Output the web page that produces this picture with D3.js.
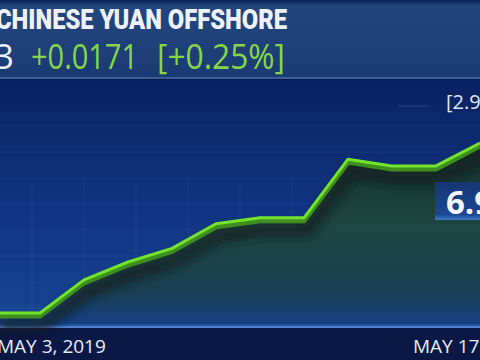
<!DOCTYPE html>
<html>
<head>
<meta charset="utf-8">
<script src="https://cdn.jsdelivr.net/npm/d3@7"></script>
<style>
  html, body { margin: 0; padding: 0; background: #0a1a48; }
  svg { display: block; }
</style>
</head>
<body>
<svg id="chart" width="480" height="360"></svg>
<script>
// data (USD/CNH, May 3 - May 17 2019)
const steps = [0, 1, 2, 3, 4, 5, 6, 7, 8, 9, 10, 11];
const values = [6.740, 6.740, 6.779, 6.800, 6.816, 6.845, 6.852, 6.852, 6.921, 6.913, 6.913, 6.940];
const dateLabels = ["MAY 3, 2019", "MAY 17, 2019"];
const title = "CHINESE YUAN OFFSHORE";
const quote = { last: "3", change: "+0.0171", pct: "[+0.25%]", price: "6.9", range: "[2.9" };

const svg = d3.select('#chart');
const W = 480, H = 360;
const chartTop = 80, chartBottom = 328;

const defs = svg.append('defs');

const bg = defs.append('linearGradient').attr('id', 'bg').attr('x1', 0).attr('y1', 0).attr('x2', 0).attr('y2', 1);
bg.append('stop').attr('offset', '0%').attr('stop-color', '#0a2262');
bg.append('stop').attr('offset', '55%').attr('stop-color', '#113584');
bg.append('stop').attr('offset', '90%').attr('stop-color', '#15418f');
bg.append('stop').attr('offset', '100%').attr('stop-color', '#1f56a8');

const head = defs.append('linearGradient').attr('id', 'head').attr('x1', 0).attr('y1', 0).attr('x2', 0).attr('y2', 1);
head.append('stop').attr('offset', '0%').attr('stop-color', '#0c2357');
head.append('stop').attr('offset', '8%').attr('stop-color', '#24467f');
head.append('stop').attr('offset', '100%').attr('stop-color', '#1a3a74');

const fill = defs.append('linearGradient').attr('id', 'fill').attr('gradientUnits', 'userSpaceOnUse')
  .attr('x1', 0).attr('y1', 140).attr('x2', 0).attr('y2', chartBottom);
fill.append('stop').attr('offset', '0%').attr('stop-color', '#142d2a');
fill.append('stop').attr('offset', '45%').attr('stop-color', '#1e4641');
fill.append('stop').attr('offset', '80%').attr('stop-color', '#1b3f52');
fill.append('stop').attr('offset', '100%').attr('stop-color', '#15408a');

const box = defs.append('linearGradient').attr('id', 'box').attr('x1', 0).attr('y1', 0).attr('x2', 0).attr('y2', 1);
box.append('stop').attr('offset', '0%').attr('stop-color', '#153674');
box.append('stop').attr('offset', '85%').attr('stop-color', '#1d4790');
box.append('stop').attr('offset', '100%').attr('stop-color', '#3a78c8');

defs.append('filter').attr('id', 'blur').attr('x', '-10%').attr('y', '-20%').attr('width', '120%').attr('height', '160%')
  .append('feGaussianBlur').attr('stdDeviation', 5);

// backgrounds
svg.append('rect').attr('x', 0).attr('y', chartTop).attr('width', W).attr('height', chartBottom - chartTop).attr('fill', 'url(#bg)');
svg.append('rect').attr('x', 0).attr('y', chartBottom).attr('width', W).attr('height', H - chartBottom).attr('fill', '#0a1845');
svg.append('rect').attr('x', 0).attr('y', chartBottom - 2).attr('width', W).attr('height', 2).attr('fill', '#5d8fd6').attr('opacity', 0.8);

// faint grid
const gx = d3.range(32, W, 52);
const gy = d3.range(126, chartBottom, 26);
svg.append('g').selectAll('line').data(gx).join('line')
  .attr('x1', d => d).attr('x2', d => d).attr('y1', 180).attr('y2', chartBottom - 4)
  .attr('stroke', '#8fb0e8').attr('stroke-opacity', 0.09);
svg.append('g').selectAll('line').data(gy).join('line')
  .attr('x1', 0).attr('x2', W).attr('y1', d => d).attr('y2', d => d)
  .attr('stroke', '#8fb0e8').attr('stroke-opacity', 0.07);

const x = d3.scaleLinear().domain([0, 11]).range([-4, 480]);
const y = d3.scaleLinear().domain([6.74, 6.94]).range([313, 143]);
const pts = steps.map((s, i) => [s, values[i]]);

const area = d3.area().x(d => x(d[0])).y0(chartBottom - 4).y1(d => y(d[1]));
const line = d3.line().x(d => x(d[0])).y(d => y(d[1]));

svg.append('path').datum(pts).attr('d', area).attr('fill', 'url(#fill)');
// shadow under the ribbon
svg.append('path').datum(pts).attr('d', line).attr('fill', 'none')
  .attr('stroke', '#0c1f1c').attr('stroke-width', 14).attr('stroke-opacity', 0.7)
  .attr('transform', 'translate(4,12)').attr('filter', 'url(#blur)');
// ribbon side
svg.append('path').datum(pts).attr('d', line).attr('fill', 'none')
  .attr('stroke', '#3f8f1e').attr('stroke-width', 5).attr('stroke-linejoin', 'round')
  .attr('transform', 'translate(0,3)');
// ribbon top
svg.append('path').datum(pts).attr('d', line).attr('fill', 'none')
  .attr('stroke', '#74e32c').attr('stroke-width', 3).attr('stroke-linejoin', 'round');

// header
svg.append('rect').attr('x', 0).attr('y', 0).attr('width', W).attr('height', 78).attr('fill', 'url(#head)');
svg.append('rect').attr('x', 0).attr('y', 77).attr('width', W).attr('height', 2).attr('fill', '#3a5f9c');

svg.append('text').attr('x', -4).attr('y', 29).text(title)
  .attr('font-family', 'Roboto, sans-serif').attr('font-weight', 900).attr('font-size', 27)
  .attr('textLength', 291).attr('lengthAdjust', 'spacingAndGlyphs')
  .attr('fill', '#eef2f8');

const row = svg.append('g').attr('font-family', '"Open Sans", sans-serif').attr('font-size', 35);
row.append('text').attr('x', -6).attr('y', 69).text(quote.last).attr('fill', '#e8eef8');
row.append('text').attr('x', 31).attr('y', 69).text(quote.change).attr('fill', '#86d649')
  .attr('textLength', 107).attr('lengthAdjust', 'spacingAndGlyphs');
row.append('text').attr('x', 157).attr('y', 69).text(quote.pct).attr('fill', '#86d649')
  .attr('textLength', 128).attr('lengthAdjust', 'spacingAndGlyphs');

// right side labels
svg.append('text').attr('x', 446).attr('y', 109).text(quote.range)
  .attr('font-family', '"Open Sans", sans-serif').attr('font-size', 20).attr('fill', '#dfe6f2');
svg.append('line').attr('x1', 398).attr('x2', 428).attr('y1', 106).attr('y2', 106)
  .attr('stroke', '#6f86b0').attr('stroke-width', 1).attr('opacity', 0.3);

svg.append('rect').attr('x', 435).attr('y', 182).attr('width', 50).attr('height', 38).attr('fill', 'url(#box)');
svg.append('text').attr('x', 446).attr('y', 214).text(quote.price)
  .attr('font-family', '"Open Sans", sans-serif').attr('font-weight', 700).attr('font-size', 33).attr('fill', '#f2f5fa');

// dates
const dates = svg.append('g').attr('font-family', '"Open Sans", sans-serif').attr('font-size', 19).attr('fill', '#e6ecf6');
dates.append('text').attr('x', -3).attr('y', 353).text(dateLabels[0]);
dates.append('text').attr('x', 413).attr('y', 353).text(dateLabels[1]);
</script>
</body>
</html>
